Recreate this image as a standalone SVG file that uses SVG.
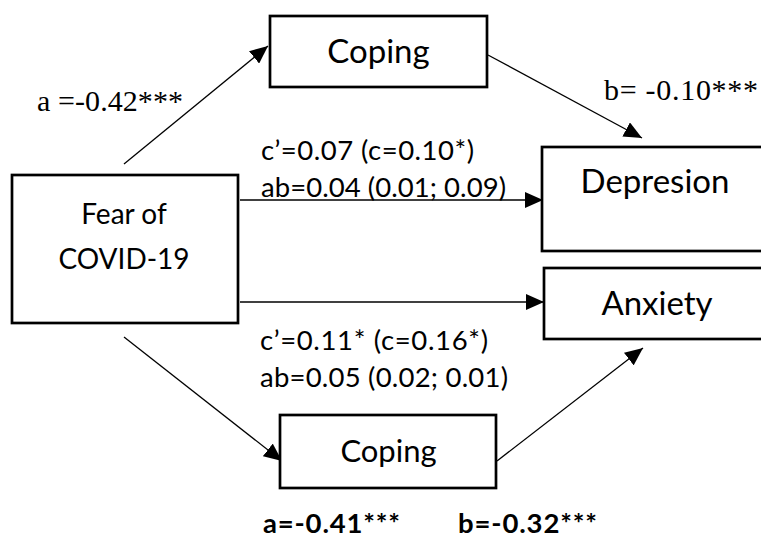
<svg xmlns="http://www.w3.org/2000/svg" width="761" height="540" viewBox="0 0 761 540">
<defs>
<marker id="arr" markerUnits="userSpaceOnUse" markerWidth="19" markerHeight="16" refX="18" refY="8" orient="auto">
<path d="M0,0 L18,8 L0,16 Z" fill="#000"/>
</marker>
<style>
.box{fill:#fff;stroke:#000;stroke-width:2.7}
.lbl{font-family:Lato,"Liberation Sans",sans-serif;fill:#000}
.node{font-size:33px;text-anchor:middle}
.edge{font-size:27.5px}
.ser{font-family:"Liberation Serif","Times New Roman",serif;font-size:30px;fill:#000}
.con{stroke:#000;stroke-width:1.3;fill:none;marker-end:url(#arr)}
</style>
</defs>
<rect width="761" height="540" fill="#fff"/>
<g id="connectors">
<line class="con" x1="124" y1="164" x2="268" y2="46"/>
<line class="con" x1="488" y1="55" x2="642" y2="138"/>
<line class="con" x1="240" y1="200" x2="543" y2="200"/>
<line class="con" x1="240" y1="302" x2="544" y2="302"/>
<line class="con" x1="124" y1="337" x2="282" y2="461"/>
<line class="con" x1="497" y1="461" x2="643" y2="348"/>
</g>
<g id="node-fear">
<rect class="box" x="12" y="175" width="226" height="148"/>
<text class="lbl node" x="124" y="224" style="font-size:28px">Fear of</text>
<text class="lbl node" x="124" y="269" style="font-size:28px">COVID-19</text>
</g>
<g id="node-coping-top">
<rect class="box" x="270" y="16" width="217" height="71"/>
<text class="lbl node" x="378.5" y="63">Coping</text>
</g>
<g id="node-depression">
<rect class="box" x="542" y="147" width="240" height="104"/>
<text class="lbl node" x="655" y="193">Depresion</text>
</g>
<g id="node-anxiety">
<rect class="box" x="544" y="268" width="240" height="71"/>
<text class="lbl node" x="657" y="315">Anxiety</text>
</g>
<g id="node-coping-bottom">
<rect class="box" x="280" y="415" width="216" height="73"/>
<text class="lbl node" x="388.5" y="462" style="font-size:31px">Coping</text>
</g>
<g id="labels">
<text class="ser" x="37" y="111" textLength="146" lengthAdjust="spacing">a =-0.42***</text>
<text class="ser" x="604" y="100" textLength="154" lengthAdjust="spacing">b= -0.10***</text>
<text class="lbl edge" x="261" y="160" textLength="213" lengthAdjust="spacing">c’=0.07 (c=0.10*)</text>
<text class="lbl edge" x="261" y="197" textLength="245" lengthAdjust="spacing">ab=0.04 (0.01; 0.09)</text>
<text class="lbl edge" x="260" y="350" textLength="228" lengthAdjust="spacing">c’=0.11* (c=0.16*)</text>
<text class="lbl edge" x="260" y="387" textLength="248" lengthAdjust="spacing">ab=0.05 (0.02; 0.01)</text>
<text class="lbl edge" x="263" y="533" style="font-weight:bold" textLength="137" lengthAdjust="spacing">a=-0.41***</text>
<text class="lbl edge" x="458" y="533" style="font-weight:bold" textLength="139" lengthAdjust="spacing">b=-0.32***</text>
</g>
</svg>
